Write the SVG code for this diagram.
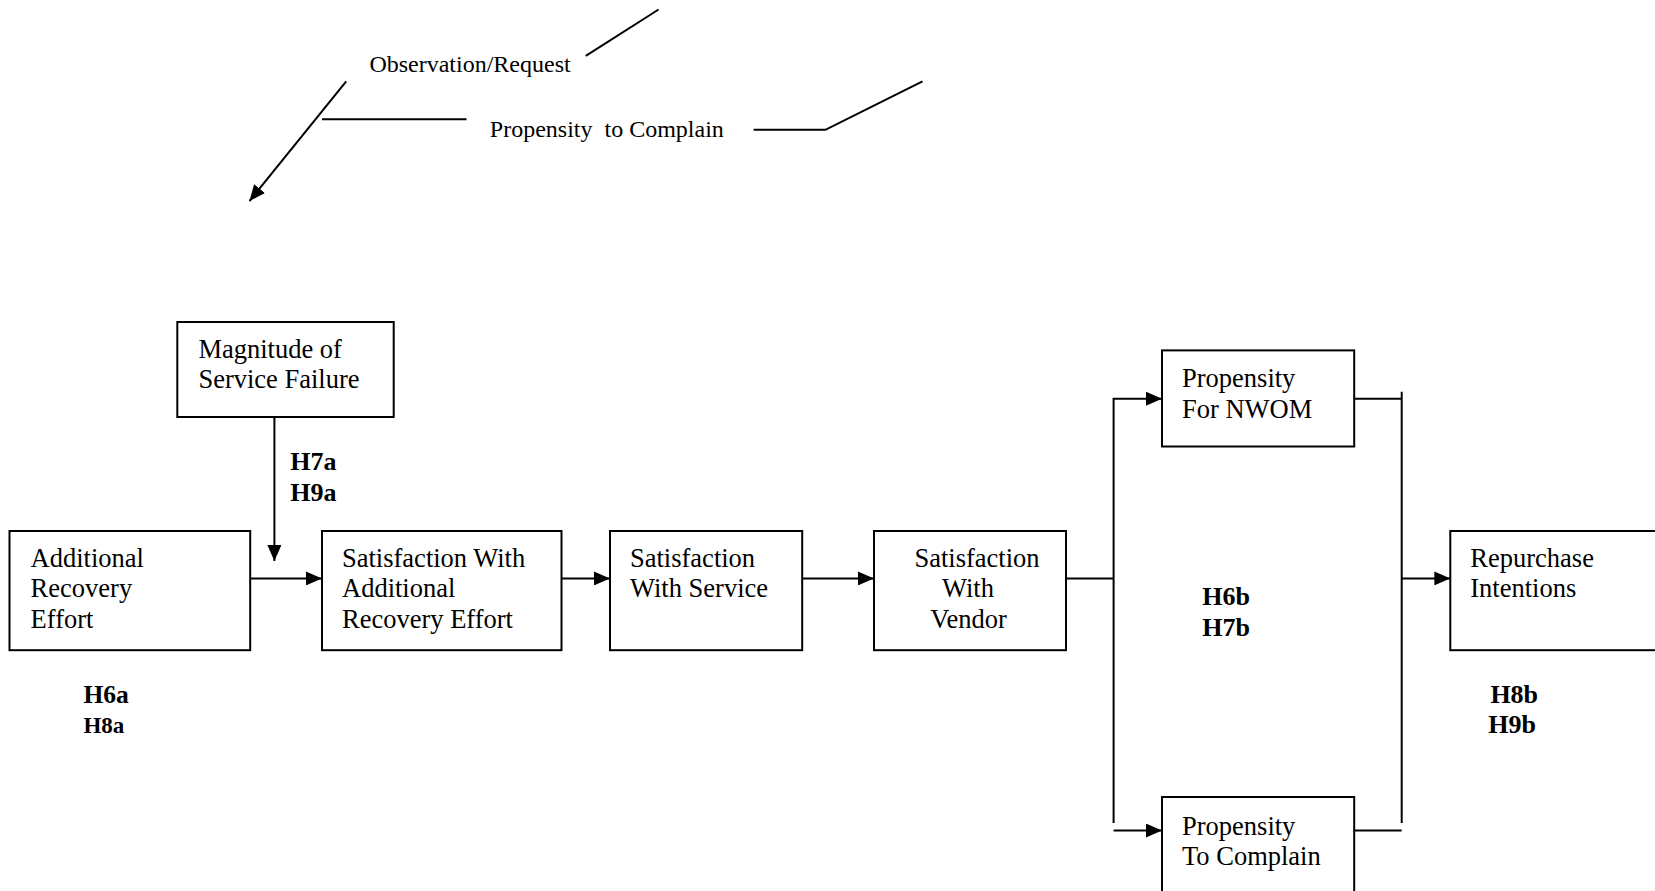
<svg xmlns="http://www.w3.org/2000/svg" width="1655" height="891" viewBox="0 0 1655 891">
<defs>
<style>
.box{fill:#fff;stroke:#000;stroke-width:2}
.ln{fill:none;stroke:#000;stroke-width:2}
.t{font-family:"Liberation Serif","Times New Roman",serif;font-size:26.5px;fill:#000}
.s{font-family:"Liberation Serif","Times New Roman",serif;font-size:24px;fill:#000;white-space:pre}
.b{font-family:"Liberation Serif","Times New Roman",serif;font-size:26px;font-weight:bold;fill:#000}
</style>
<marker id="ah" markerUnits="userSpaceOnUse" markerWidth="16" markerHeight="14" refX="16" refY="7" orient="auto">
<path d="M0,0 L16,7 L0,14 Z" fill="#000"/>
</marker>
</defs>
<rect width="1655" height="891" fill="#fff"/>
<g id="connectors">
<line class="ln" x1="585.8" y1="55.9" x2="658.6" y2="9.5"/>
<line class="ln" x1="346.2" y1="81.3" x2="249.5" y2="201" marker-end="url(#ah)"/>
<line class="ln" x1="322" y1="119.3" x2="466.5" y2="119.3"/>
<polyline class="ln" points="753.6,129.8 825.4,129.8 922.5,81.3"/>
<line class="ln" x1="274.4" y1="417" x2="274.4" y2="561" marker-end="url(#ah)"/>
<line class="ln" x1="250.2" y1="578.4" x2="322" y2="578.4" marker-end="url(#ah)"/>
<line class="ln" x1="561.5" y1="578.4" x2="610" y2="578.4" marker-end="url(#ah)"/>
<line class="ln" x1="802.2" y1="578.4" x2="874" y2="578.4" marker-end="url(#ah)"/>
<line class="ln" x1="1066" y1="578.4" x2="1113.6" y2="578.4"/>
<polyline class="ln" points="1113.6,823 1113.6,398.7 1162,398.7" marker-end="url(#ah)"/>
<line class="ln" x1="1113.6" y1="830.5" x2="1162" y2="830.5" marker-end="url(#ah)"/>
<line class="ln" x1="1354.2" y1="398.7" x2="1401.7" y2="398.7"/>
<line class="ln" x1="1354.2" y1="830.5" x2="1401.7" y2="830.5"/>
<line class="ln" x1="1401.7" y1="391.7" x2="1401.7" y2="823"/>
<line class="ln" x1="1401.7" y1="578.4" x2="1450.3" y2="578.4" marker-end="url(#ah)"/>
</g>
<g id="label-observation"><text class="s" x="369.4" y="72">Observation/Request</text></g>
<g id="label-propensity"><text class="s" x="489.8" y="137">Propensity  to Complain</text></g>
<g id="magnitude">
<rect class="box" x="177.3" y="322" width="216.4" height="95"/>
<text class="t" x="198.4" y="357.5">Magnitude of</text>
<text class="t" x="198.4" y="388">Service Failure</text>
</g>
<g id="additional">
<rect class="box" x="9.5" y="531" width="240.7" height="119.2"/>
<text class="t" x="30.6" y="566.5">Additional</text>
<text class="t" x="30.6" y="597">Recovery</text>
<text class="t" x="30.6" y="628">Effort</text>
</g>
<g id="sat-additional">
<rect class="box" x="322" y="531" width="239.5" height="119.2"/>
<text class="t" x="342" y="566.5">Satisfaction With</text>
<text class="t" x="342" y="597">Additional</text>
<text class="t" x="342" y="628">Recovery Effort</text>
</g>
<g id="sat-service">
<rect class="box" x="610" y="531" width="192.2" height="119.2"/>
<text class="t" x="630" y="566.5">Satisfaction</text>
<text class="t" x="630" y="597">With Service</text>
</g>
<g id="sat-vendor">
<rect class="box" x="874" y="531" width="192" height="119.2"/>
<text class="t" x="977" y="566.5" text-anchor="middle">Satisfaction</text>
<text class="t" x="968" y="597" text-anchor="middle">With</text>
<text class="t" x="968.5" y="628" text-anchor="middle">Vendor</text>
</g>
<g id="nwom">
<rect class="box" x="1162" y="350.4" width="192.2" height="96.1"/>
<text class="t" x="1182" y="387">Propensity</text>
<text class="t" x="1182" y="418">For NWOM</text>
</g>
<g id="complain">
<rect class="box" x="1162" y="797" width="192.2" height="120"/>
<text class="t" x="1182" y="834.5">Propensity</text>
<text class="t" x="1182" y="865">To Complain</text>
</g>
<g id="repurchase">
<rect class="box" x="1450.3" y="531" width="230" height="119.2"/>
<text class="t" x="1470.3" y="566.5">Repurchase</text>
<text class="t" x="1470.3" y="597">Intentions</text>
</g>
<g id="hyp-labels">
<text class="b" x="290.3" y="470">H7a</text>
<text class="b" x="290.3" y="500.5">H9a</text>
<text class="b" x="83.4" y="703" style="font-size:25.5px">H6a</text>
<text class="b" x="83.4" y="733" style="font-size:23px">H8a</text>
<text class="b" x="1202.2" y="605">H6b</text>
<text class="b" x="1202.2" y="635.5">H7b</text>
<text class="b" x="1490.4" y="703">H8b</text>
<text class="b" x="1488.3" y="733">H9b</text>
</g>
</svg>
